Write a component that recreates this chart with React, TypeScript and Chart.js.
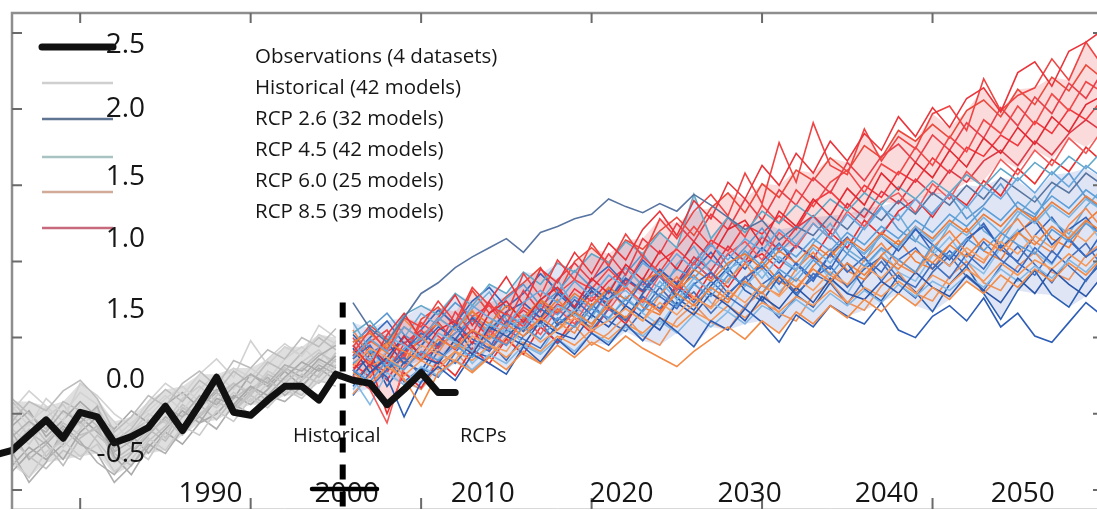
import React, { useEffect, useRef } from 'react';
import { Chart, registerables } from 'chart.js';

Chart.register(...registerables);

// ---------------- DATA ----------------
const obsYears = [1985, 1986, 1987, 1988, 1989, 1990, 1991, 1992, 1993, 1994, 1995, 1996, 1997, 1998, 1999, 2000, 2001, 2002, 2003, 2004, 2005, 2006, 2007, 2008, 2009, 2010, 2011, 2012];
const obsAnomaly = [-0.27, -0.24, -0.14, -0.04, -0.16, 0.01, -0.02, -0.19, -0.15, -0.09, 0.05, -0.11, 0.06, 0.24, 0.01, -0.01, 0.09, 0.18, 0.18, 0.09, 0.26, 0.22, 0.20, 0.06, 0.16, 0.27, 0.14, 0.14];

const histYears = [1986, 1987, 1988, 1989, 1990, 1991, 1992, 1993, 1994, 1995, 1996, 1997, 1998, 1999, 2000, 2001, 2002, 2003, 2004, 2005];
const historicalRuns = [
  [-0.05, 0.08, 0.02, 0.15, 0.22, 0.10, -0.12, -0.02, 0.12, 0.05, 0.20, 0.28, 0.18, 0.35, 0.30, 0.42, 0.36, 0.50, 0.44, 0.56],
  [-0.30, -0.42, -0.25, -0.18, -0.28, -0.20, -0.38, -0.30, -0.16, -0.24, -0.08, -0.14, 0.02, -0.05, 0.10, 0.04, 0.16, 0.10, 0.22, 0.18],
  [-0.15, -0.05, -0.12, 0.02, -0.06, 0.05, -0.25, -0.18, -0.08, 0.04, -0.02, 0.12, 0.06, 0.18, 0.26, 0.20, 0.32, 0.28, 0.38, 0.45],
  [0.05, -0.08, 0.10, 0.00, 0.14, 0.06, -0.05, -0.20, -0.02, 0.10, 0.18, 0.08, 0.22, 0.30, 0.24, 0.36, 0.46, 0.38, 0.52, 0.46],
  [-0.22, -0.10, -0.28, -0.15, -0.05, -0.18, -0.32, -0.25, -0.12, -0.04, -0.14, 0.00, 0.08, 0.02, 0.14, 0.22, 0.14, 0.26, 0.20, 0.32],
  [-0.38, -0.26, -0.18, -0.30, -0.12, -0.02, -0.28, -0.40, -0.22, -0.10, 0.02, -0.06, 0.10, 0.06, 0.18, 0.12, 0.24, 0.34, 0.28, 0.38],
  [0.10, 0.00, -0.10, 0.08, 0.02, -0.08, -0.18, -0.10, 0.05, 0.16, 0.08, 0.22, 0.14, 0.28, 0.20, 0.34, 0.28, 0.40, 0.50, 0.42],
  [-0.10, -0.20, -0.05, -0.22, -0.10, 0.04, -0.14, -0.22, -0.30, -0.12, 0.00, 0.10, 0.04, 0.14, 0.08, 0.20, 0.30, 0.22, 0.34, 0.28],
  [-0.25, -0.45, -0.32, -0.10, -0.20, -0.26, -0.45, -0.34, -0.20, -0.26, -0.10, -0.02, -0.10, 0.06, 0.00, 0.12, 0.08, 0.18, 0.12, 0.24],
  [0.02, 0.15, 0.05, -0.05, 0.20, 0.12, 0.00, -0.08, 0.08, 0.20, 0.12, 0.26, 0.36, 0.24, 0.48, 0.32, 0.44, 0.38, 0.58, 0.50],
  [-0.18, -0.28, -0.36, -0.24, -0.30, -0.14, -0.24, -0.12, -0.04, -0.16, 0.04, -0.02, 0.12, 0.20, 0.12, 0.26, 0.20, 0.30, 0.40, 0.34],
  [-0.08, 0.02, -0.15, -0.04, 0.08, -0.02, -0.10, 0.02, -0.06, 0.06, 0.14, 0.04, 0.16, 0.10, 0.26, 0.18, 0.30, 0.24, 0.36, 0.30],
  [-0.28, -0.12, -0.20, -0.34, -0.16, -0.08, -0.30, -0.22, -0.10, -0.18, -0.02, 0.06, -0.04, 0.10, 0.18, 0.08, 0.20, 0.30, 0.24, 0.36],
  [0.00, -0.15, -0.02, 0.06, -0.08, 0.02, -0.20, -0.12, 0.00, -0.06, 0.10, 0.18, 0.08, 0.20, 0.14, 0.28, 0.22, 0.34, 0.42, 0.30],
  [-0.12, -0.30, -0.20, -0.08, -0.18, -0.32, -0.40, -0.26, -0.14, -0.02, -0.10, 0.04, 0.14, 0.04, 0.16, 0.24, 0.12, 0.22, 0.32, 0.26],
  [-0.20, -0.06, 0.04, -0.12, 0.06, -0.04, -0.16, -0.06, 0.02, 0.12, 0.02, 0.16, 0.26, 0.16, 0.30, 0.22, 0.36, 0.44, 0.34, 0.48],
  [0.08, -0.04, -0.18, -0.06, -0.14, -0.10, -0.26, -0.34, -0.18, -0.08, 0.06, -0.02, 0.08, 0.02, 0.12, 0.06, 0.18, 0.12, 0.26, 0.40],
  [-0.34, -0.22, -0.30, -0.20, -0.02, -0.12, -0.22, -0.14, -0.26, -0.12, -0.20, -0.06, 0.00, 0.12, 0.06, 0.16, 0.28, 0.18, 0.30, 0.22],
];

const rcpYears = [2006, 2007, 2008, 2009, 2010, 2011, 2012, 2013, 2014, 2015, 2016, 2017, 2018, 2019, 2020, 2021, 2022, 2023, 2024, 2025, 2026, 2027, 2028, 2029, 2030, 2031, 2032, 2033, 2034, 2035, 2036, 2037, 2038, 2039, 2040, 2041, 2042, 2043, 2044, 2045, 2046, 2047, 2048, 2049, 2050];

const rcp26Runs = [
  [0.73, 0.56, 0.47, 0.63, 0.79, 0.86, 0.96, 1.03, 1.09, 1.15, 1.06, 1.19, 1.23, 1.28, 1.31, 1.41, 1.36, 1.32, 1.38, 1.33, 1.44, 1.37, 1.29, 1.21, 1.27, 1.14, 1.23, 1.17, 1.30, 1.21, 1.35, 1.27, 1.40, 1.31, 1.45, 1.37, 1.50, 1.41, 1.55, 1.47, 1.39, 1.52, 1.45, 1.58, 1.50],
  [0.18, 0.33, 0.24, -0.02, 0.21, 0.31, 0.22, 0.39, 0.33, 0.26, 0.44, 0.34, 0.49, 0.39, 0.53, 0.45, 0.59, 0.48, 0.63, 0.54, 0.44, 0.61, 0.55, 0.69, 0.60, 0.47, 0.65, 0.57, 0.71, 0.64, 0.59, 0.73, 0.55, 0.50, 0.64, 0.71, 0.61, 0.76, 0.57, 0.66, 0.51, 0.47, 0.60, 0.73, 0.64],
  [0.36, 0.45, 0.29, 0.41, 0.53, 0.45, 0.59, 0.49, 0.43, 0.61, 0.54, 0.69, 0.61, 0.75, 0.65, 0.81, 0.71, 0.87, 0.77, 0.69, 0.85, 0.93, 0.79, 0.89, 0.97, 0.85, 0.99, 0.89, 1.05, 0.93, 1.03, 0.87, 1.01, 1.09, 0.95, 1.07, 0.97, 1.13, 1.01, 0.93, 1.09, 0.99, 1.15, 1.03, 1.11],
  [0.43, 0.27, 0.37, 0.51, 0.37, 0.33, 0.49, 0.39, 0.57, 0.51, 0.45, 0.61, 0.53, 0.49, 0.65, 0.57, 0.71, 0.63, 0.55, 0.73, 0.65, 0.79, 0.71, 0.61, 0.77, 0.69, 0.83, 0.73, 0.89, 0.79, 0.75, 0.87, 0.79, 0.93, 0.83, 0.77, 0.91, 0.81, 0.73, 0.89, 0.79, 0.95, 0.85, 0.77, 0.91],
  [0.29, 0.17, 0.29, 0.37, 0.25, 0.41, 0.33, 0.47, 0.41, 0.55, 0.49, 0.43, 0.59, 0.67, 0.55, 0.69, 0.61, 0.77, 0.69, 0.83, 0.73, 0.87, 0.77, 0.69, 0.85, 0.93, 0.79, 0.89, 0.97, 0.83, 0.95, 1.03, 0.89, 0.83, 0.99, 0.89, 1.05, 0.95, 1.11, 0.99, 0.91, 1.07, 0.97, 0.87, 1.03],
  [0.25, 0.39, 0.47, 0.33, 0.45, 0.57, 0.49, 0.63, 0.54, 0.67, 0.73, 0.63, 0.79, 0.69, 0.83, 0.75, 0.89, 0.81, 0.95, 0.85, 0.99, 0.89, 1.05, 0.95, 1.09, 0.99, 1.11, 1.03, 0.95, 1.13, 1.05, 1.17, 1.07, 1.21, 1.11, 1.01, 1.15, 1.23, 1.09, 1.19, 1.27, 1.11, 1.21, 1.29, 1.15],
  [0.52, 0.40, 0.18, 0.34, 0.28, 0.46, 0.58, 0.41, 0.37, 0.50, 0.62, 0.75, 0.58, 0.66, 0.81, 0.70, 0.62, 0.79, 0.92, 0.76, 0.68, 0.84, 0.96, 0.81, 0.74, 0.90, 0.78, 0.70, 0.86, 0.99, 0.82, 0.74, 0.91, 0.80, 0.67, 0.85, 0.97, 0.79, 0.62, 0.81, 0.94, 0.78, 0.70, 0.88, 1.00],
  [0.12, 0.27, 0.36, 0.21, 0.30, 0.24, 0.40, 0.55, 0.47, 0.35, 0.51, 0.60, 0.46, 0.58, 0.72, 0.61, 0.54, 0.68, 0.83, 0.71, 0.80, 0.66, 0.78, 0.90, 0.75, 0.63, 0.77, 0.92, 0.86, 0.72, 0.88, 1.00, 0.85, 0.76, 0.93, 1.04, 0.90, 0.81, 0.97, 1.10, 0.98, 0.86, 1.02, 1.12, 0.96],
  [0.38, 0.50, 0.61, 0.46, 0.55, 0.68, 0.59, 0.74, 0.83, 0.70, 0.79, 0.92, 0.81, 0.70, 0.88, 0.97, 0.85, 1.01, 0.90, 0.78, 0.94, 1.06, 0.92, 0.84, 1.00, 1.12, 0.98, 0.87, 1.05, 1.16, 1.02, 0.93, 1.10, 1.22, 1.06, 0.97, 1.13, 1.25, 1.08, 1.00, 1.17, 1.29, 1.14, 1.03, 1.20],
];

const rcp45Runs = [
  [0.37, 0.49, 0.41, 0.57, 0.49, 0.63, 0.55, 0.71, 0.63, 0.57, 0.73, 0.81, 0.73, 0.87, 0.77, 0.91, 0.83, 0.99, 0.91, 1.05, 0.95, 1.11, 1.01, 1.15, 1.07, 1.21, 1.11, 1.25, 1.15, 1.31, 1.21, 1.35, 1.27, 1.41, 1.31, 1.45, 1.35, 1.49, 1.41, 1.55, 1.45, 1.59, 1.49, 1.63, 1.55],
  [0.29, 0.21, 0.35, 0.29, 0.41, 0.35, 0.45, 0.37, 0.51, 0.45, 0.57, 0.49, 0.63, 0.57, 0.69, 0.63, 0.75, 0.67, 0.79, 0.71, 0.85, 0.77, 0.91, 0.85, 0.79, 0.95, 0.87, 1.01, 0.91, 1.05, 0.97, 1.09, 1.01, 0.93, 1.11, 1.03, 1.15, 1.07, 1.19, 1.11, 1.05, 1.21, 1.13, 1.25, 1.17],
  [0.45, 0.35, 0.51, 0.45, 0.37, 0.53, 0.47, 0.41, 0.59, 0.53, 0.65, 0.57, 0.71, 0.65, 0.59, 0.75, 0.81, 0.71, 0.87, 0.75, 0.89, 0.81, 0.95, 1.01, 0.89, 1.03, 0.95, 1.09, 0.99, 1.13, 1.05, 1.17, 1.09, 1.23, 1.13, 1.25, 1.17, 1.29, 1.19, 1.33, 1.25, 1.37, 1.29, 1.41, 1.33],
  [0.53, 0.61, 0.47, 0.65, 0.71, 0.65, 0.79, 0.71, 0.85, 0.79, 0.93, 0.85, 0.99, 0.93, 1.05, 0.99, 1.13, 1.05, 1.19, 1.09, 1.44, 1.15, 1.29, 1.19, 1.33, 1.25, 1.37, 1.29, 1.41, 1.33, 1.45, 1.37, 1.49, 1.41, 1.53, 1.45, 1.57, 1.49, 1.61, 1.53, 1.65, 1.57, 1.69, 1.61, 1.73],
  [0.23, 0.06, 0.27, 0.19, 0.31, 0.25, 0.35, 0.29, 0.39, 0.33, 0.45, 0.39, 0.49, 0.41, 0.53, 0.47, 0.57, 0.51, 0.61, 0.53, 0.65, 0.57, 0.67, 0.59, 0.71, 0.65, 0.75, 0.67, 0.79, 0.71, 0.81, 0.73, 0.85, 0.77, 0.87, 0.81, 0.91, 0.83, 0.95, 0.87, 0.97, 0.89, 1.01, 0.93, 1.05],
  [0.33, 0.41, 0.31, 0.43, 0.49, 0.43, 0.53, 0.61, 0.53, 0.65, 0.59, 0.71, 0.65, 0.77, 0.69, 0.83, 0.75, 0.89, 0.83, 0.95, 0.89, 1.01, 0.93, 1.07, 0.97, 1.11, 1.03, 1.15, 1.07, 1.19, 1.11, 1.23, 1.15, 1.27, 1.19, 1.31, 1.23, 1.35, 1.27, 1.39, 1.31, 1.43, 1.35, 1.47, 1.39],
  [0.60, 0.42, 0.35, 0.50, 0.66, 0.58, 0.47, 0.69, 0.80, 0.62, 0.55, 0.74, 0.88, 0.70, 0.63, 0.81, 0.96, 0.84, 0.77, 0.98, 1.10, 0.92, 0.86, 1.03, 1.17, 1.01, 0.94, 1.12, 1.25, 1.08, 1.00, 1.19, 1.31, 1.14, 1.06, 1.24, 1.37, 1.20, 1.12, 1.30, 1.43, 1.27, 1.18, 1.36, 1.48],
  [0.16, 0.30, 0.41, 0.27, 0.20, 0.36, 0.48, 0.33, 0.44, 0.57, 0.46, 0.40, 0.58, 0.69, 0.54, 0.62, 0.77, 0.66, 0.58, 0.74, 0.86, 0.73, 0.67, 0.84, 0.95, 0.80, 0.91, 1.03, 0.88, 0.79, 0.96, 1.08, 0.93, 0.87, 1.04, 1.16, 1.00, 0.92, 1.09, 1.21, 1.06, 0.98, 1.16, 1.27, 1.12],
  [0.47, 0.56, 0.66, 0.52, 0.44, 0.61, 0.73, 0.64, 0.57, 0.76, 0.85, 0.71, 0.80, 0.94, 0.83, 0.74, 0.92, 1.05, 0.90, 0.82, 1.00, 1.12, 0.97, 1.09, 1.22, 1.06, 1.17, 1.30, 1.16, 1.05, 1.23, 1.36, 1.21, 1.13, 1.32, 1.44, 1.28, 1.37, 1.51, 1.35, 1.29, 1.47, 1.58, 1.42, 1.34],
];

const rcp60Runs = [
  [0.27, 0.19, 0.31, 0.23, 0.05, 0.27, 0.35, 0.27, 0.37, 0.29, 0.41, 0.33, 0.45, 0.37, 0.47, 0.41, 0.51, 0.43, 0.37, 0.31, 0.41, 0.49, 0.57, 0.49, 0.61, 0.53, 0.67, 0.59, 0.71, 0.63, 0.75, 0.67, 0.79, 0.71, 0.83, 0.75, 0.87, 0.79, 0.91, 0.83, 0.95, 0.87, 0.99, 0.91, 1.03],
  [0.41, 0.33, 0.47, 0.41, 0.35, 0.49, 0.43, 0.55, 0.49, 0.59, 0.51, 0.63, 0.55, 0.67, 0.59, 0.71, 0.63, 0.75, 0.67, 0.79, 0.71, 0.83, 0.75, 0.87, 0.79, 0.91, 0.83, 0.95, 0.87, 0.99, 0.91, 1.03, 0.95, 1.07, 0.99, 1.11, 1.03, 1.15, 1.07, 1.19, 1.11, 1.23, 1.15, 1.27, 1.19],
  [0.31, 0.43, 0.37, 0.29, 0.45, 0.39, 0.35, 0.51, 0.45, 0.41, 0.57, 0.47, 0.55, 0.63, 0.55, 0.61, 0.69, 0.61, 0.73, 0.65, 0.77, 0.69, 0.81, 0.73, 0.85, 0.77, 0.89, 0.81, 0.93, 0.85, 0.97, 0.89, 1.01, 0.93, 1.05, 0.97, 1.09, 1.01, 1.13, 1.05, 1.17, 1.09, 1.21, 1.13, 1.25],
  [0.47, 0.53, 0.43, 0.57, 0.49, 0.63, 0.55, 0.67, 0.59, 0.71, 0.63, 0.75, 0.67, 0.79, 0.71, 0.83, 0.75, 0.87, 0.93, 0.83, 0.95, 0.87, 0.99, 1.05, 0.95, 1.07, 0.99, 1.11, 1.03, 1.15, 1.07, 1.19, 1.11, 1.23, 1.15, 1.27, 1.19, 1.31, 1.23, 1.35, 1.27, 1.39, 1.31, 1.43, 1.35],
  [0.21, 0.31, 0.37, 0.25, 0.35, 0.29, 0.41, 0.35, 0.45, 0.37, 0.47, 0.41, 0.51, 0.45, 0.55, 0.49, 0.59, 0.53, 0.63, 0.57, 0.67, 0.61, 0.71, 0.63, 0.73, 0.67, 0.77, 0.71, 0.81, 0.73, 0.83, 0.77, 0.87, 0.79, 0.91, 0.85, 0.95, 0.87, 0.99, 0.91, 1.01, 0.95, 1.05, 0.97, 1.09],
  [0.55, 0.38, 0.45, 0.62, 0.51, 0.40, 0.57, 0.68, 0.52, 0.46, 0.63, 0.74, 0.60, 0.53, 0.71, 0.82, 0.69, 0.61, 0.78, 0.90, 0.76, 0.70, 0.88, 0.99, 0.84, 0.78, 0.95, 1.06, 0.91, 0.84, 1.01, 1.12, 0.98, 0.92, 1.09, 1.20, 1.06, 0.99, 1.17, 1.28, 1.13, 1.06, 1.24, 1.35, 1.21],
  [0.13, 0.25, 0.34, 0.22, 0.16, 0.32, 0.41, 0.28, 0.38, 0.50, 0.39, 0.33, 0.49, 0.58, 0.45, 0.53, 0.64, 0.51, 0.45, 0.62, 0.72, 0.60, 0.55, 0.71, 0.80, 0.66, 0.61, 0.78, 0.87, 0.73, 0.68, 0.84, 0.93, 0.79, 0.74, 0.90, 1.00, 0.86, 0.81, 0.97, 1.06, 0.93, 0.88, 1.04, 1.13],
  [0.36, 0.48, 0.40, 0.33, 0.52, 0.59, 0.46, 0.40, 0.56, 0.65, 0.54, 0.62, 0.75, 0.63, 0.57, 0.74, 0.84, 0.70, 0.65, 0.81, 0.91, 0.79, 0.73, 0.89, 1.00, 0.87, 0.81, 0.97, 1.08, 0.94, 0.88, 1.04, 1.14, 1.00, 0.95, 1.11, 1.22, 1.07, 1.01, 1.18, 1.29, 1.15, 1.09, 1.26, 1.36],
];

const rcp85Runs = [
  [0.45, 0.31, 0.52, 0.66, 0.49, 0.63, 0.78, 0.58, 0.74, 0.90, 0.71, 0.95, 0.86, 1.06, 0.92, 1.12, 1.01, 1.21, 1.33, 1.17, 1.40, 1.28, 1.52, 1.41, 1.63, 1.50, 1.71, 1.58, 1.79, 1.66, 1.84, 1.73, 1.95, 1.82, 2.01, 1.88, 2.07, 2.14, 1.98, 2.24, 2.31, 2.15, 2.38, 2.44, 2.52],
  [0.40, 0.55, 0.41, 0.63, 0.57, 0.74, 0.60, 0.83, 0.71, 0.65, 0.92, 0.77, 1.01, 0.88, 1.12, 0.97, 1.18, 1.03, 1.28, 1.15, 1.33, 1.44, 1.30, 1.58, 1.38, 1.78, 1.52, 1.91, 1.63, 1.57, 1.87, 1.66, 1.82, 1.74, 1.97, 2.02, 1.86, 2.20, 1.99, 2.09, 2.14, 2.33, 2.19, 2.44, 2.28],
  [0.28, 0.44, 0.33, 0.51, 0.38, 0.55, 0.61, 0.46, 0.66, 0.74, 0.60, 0.75, 0.83, 0.70, 0.89, 0.79, 0.98, 0.88, 1.07, 0.95, 1.13, 1.02, 1.21, 1.27, 1.11, 1.33, 1.23, 1.41, 1.30, 1.48, 1.37, 1.58, 1.47, 1.65, 1.55, 1.73, 1.62, 1.81, 1.71, 1.88, 1.77, 1.95, 1.85, 2.03, 2.09],
  [0.25, 0.16, -0.06, 0.31, 0.40, 0.33, 0.49, 0.40, 0.55, 0.45, 0.63, 0.52, 0.69, 0.59, 0.77, 0.68, 0.83, 0.73, 0.91, 0.81, 0.99, 0.89, 1.05, 1.13, 1.01, 1.19, 1.09, 1.25, 1.15, 1.33, 1.23, 1.39, 1.45, 1.32, 1.51, 1.41, 1.59, 1.49, 1.67, 1.57, 1.73, 1.63, 1.81, 1.71, 1.87],
  [0.50, 0.34, 0.27, 0.46, 0.55, 0.43, 0.67, 0.53, 0.73, 0.59, 0.81, 0.67, 0.88, 0.99, 0.87, 1.05, 0.91, 1.15, 1.05, 1.25, 1.13, 1.31, 1.21, 1.41, 1.27, 1.47, 1.37, 1.55, 1.45, 1.65, 1.53, 1.69, 1.77, 1.65, 1.83, 1.73, 1.91, 1.81, 2.01, 1.89, 2.08, 1.97, 2.17, 2.07, 2.25],
  [0.20, 0.33, 0.00, 0.27, 0.17, 0.35, 0.25, 0.43, 0.33, 0.49, 0.39, 0.57, 0.47, 0.63, 0.53, 0.69, 0.59, 0.77, 0.67, 0.85, 0.75, 0.93, 0.83, 0.99, 1.05, 0.95, 1.11, 1.02, 1.19, 1.09, 1.27, 1.17, 1.33, 1.41, 1.29, 1.45, 1.37, 1.53, 1.43, 1.61, 1.51, 1.67, 1.59, 1.75, 1.65],
  [0.38, 0.47, 0.55, 0.36, 0.60, 0.51, 0.42, 0.64, 0.71, 0.56, 0.70, 0.63, 0.79, 0.88, 0.82, 0.95, 0.84, 1.03, 0.93, 1.09, 1.23, 1.10, 1.29, 1.16, 1.37, 1.25, 1.47, 1.36, 1.52, 1.60, 1.45, 1.64, 1.57, 1.75, 1.63, 1.82, 1.72, 1.93, 1.84, 2.02, 1.90, 2.10, 1.99, 2.18, 2.11],
  [0.30, 0.36, 0.22, 0.40, 0.48, 0.60, 0.47, 0.55, 0.41, 0.58, 0.68, 0.60, 0.72, 0.66, 0.80, 0.72, 0.88, 0.80, 0.94, 0.86, 1.03, 0.94, 1.10, 1.00, 1.16, 1.08, 1.22, 1.30, 1.19, 1.38, 1.29, 1.46, 1.38, 1.54, 1.44, 1.60, 1.52, 1.66, 1.73, 1.63, 1.79, 1.70, 1.84, 1.93, 1.85],
  [0.44, 0.58, 0.49, 0.38, 0.62, 0.70, 0.57, 0.81, 0.66, 0.77, 0.86, 0.96, 0.78, 1.00, 1.09, 0.99, 1.14, 1.08, 1.20, 1.29, 1.17, 1.35, 1.45, 1.32, 1.51, 1.42, 1.60, 1.53, 1.68, 1.59, 1.76, 1.68, 1.86, 1.79, 1.90, 1.81, 1.99, 2.06, 1.95, 2.13, 2.03, 2.21, 2.12, 2.29, 2.20],
  [0.33, 0.24, 0.41, 0.47, 0.35, 0.44, 0.53, 0.62, 0.50, 0.66, 0.57, 0.73, 0.66, 0.82, 0.74, 0.87, 0.96, 0.84, 1.00, 1.08, 0.98, 1.14, 1.07, 1.24, 1.18, 1.30, 1.21, 1.39, 1.46, 1.35, 1.50, 1.42, 1.59, 1.52, 1.68, 1.58, 1.75, 1.69, 1.83, 1.76, 1.92, 1.84, 2.00, 1.93, 2.07],
];

const splitYear = 2005.4;
const splitTop = 0.73;

const xTickYears = [1990, 2000, 2010, 2020, 2030, 2040];
const yTickValues = [-0.5, 0, 0.5, 1, 1.5, 2, 2.5];
const xLabelTexts = ['1990', '2000', '2010', '2020', '2030', '2040', '2050'];
const yLabelTexts = ['2.5', '2.0', '1.5', '1.0', '1.5', '0.0', '-0.5'];
const legendLabels = ['Observations (4 datasets)', 'Historical (42 models)', 'RCP 2.6 (32 models)', 'RCP 4.5 (42 models)', 'RCP 6.0 (25 models)', 'RCP 8.5 (39 models)'];

// ---------------- LAYOUT / STYLE ----------------
const FONT = '"Open Sans", "Noto Sans", sans-serif';
const xLabelAnchors = [1997.65, 2005.63, 2013.61, 2021.76, 2029.27, 2037.31, 2045.29];
const yLabelAnchors = [2.434, 2.011, 1.568, 1.161, 0.694, 0.235, -0.254];
const legendSwatchColors = ['#111111', '#cfcfcf', '#5f7592', '#a9c3c3', '#d2ab98', '#c76a7e'];
const legendSwatchY = [47, 83, 119, 157, 192, 228];

const histColors = ['#bdbdbd', '#cbcbcb', '#b0b0b0', '#d2d2d2', '#c2c2c2', '#a9a9a9'];
const rcp26Colors = ['#5874a0', '#2d5db5', '#3a6cc4', '#2a55a8', '#4070c0', '#3262b8', '#2b5fb0', '#466fb8', '#3768bd'];
const rcp45Colors = ['#6aa6dd', '#5a9ad6', '#7ab3e0', '#62a8c8', '#84b8e4', '#5c9ed8', '#70acd6', '#8bbde6', '#5d97cf'];
const rcp60Colors = ['#f28c48', '#ee8440', '#f5a066', '#e97c3a', '#f39656', '#f08a50', '#eb9462', '#f07e36'];
const rcp85Colors = ['#e8353b', '#ee4444', '#e02a34', '#f05a5a', '#e6404c', '#ea3030', '#f04848', '#dc3a48', '#e94a3c', '#f2383e'];

const toPoints = (years: number[], vals: number[]) => vals.map((v, i) => ({ x: years[i], y: v }));

// envelope of a set of runs (k-th lowest / k-th highest per year)
function envelope(runs: number[][], k: number) {
  const lo: number[] = [];
  const hi: number[] = [];
  runs[0].forEach((_, j) => {
    const col = runs.map((r) => r[j]).sort((p, q) => p - q);
    lo.push(col[Math.min(k, col.length - 1)]);
    hi.push(col[Math.max(col.length - 1 - k, 0)]);
  });
  return { lo, hi };
}

function bandPair(years: number[], env: { lo: number[]; hi: number[] }, color: string, order: number) {
  return [
    { data: toPoints(years, env.lo), borderWidth: 0, borderColor: 'rgba(0,0,0,0)', fill: false, order },
    { data: toPoints(years, env.hi), borderWidth: 0, borderColor: 'rgba(0,0,0,0)', backgroundColor: color, fill: '-1', order },
  ];
}

function buildDatasets() {
  const ds: any[] = [];
  // shaded spreads (drawn first, underneath)
  ds.push(...bandPair(histYears, envelope(historicalRuns, 1), 'rgba(170,170,170,0.38)', 9));
  ds.push(...bandPair(rcpYears, envelope([...rcp26Runs, ...rcp45Runs, ...rcp60Runs], 1), 'rgba(110,135,205,0.22)', 8));
  ds.push(...bandPair(rcpYears, envelope(rcp85Runs, 1), 'rgba(232,70,70,0.2)', 7));

  historicalRuns.forEach((vals, i) => {
    ds.push({ data: toPoints(histYears, vals), borderColor: histColors[i % histColors.length], borderWidth: 1.6, fill: false, order: 3 });
  });
  const groups = [
    { runs: rcp60Runs, colors: rcp60Colors },
    { runs: rcp45Runs, colors: rcp45Colors },
    { runs: rcp26Runs, colors: rcp26Colors },
    { runs: rcp85Runs, colors: rcp85Colors },
  ];
  for (let i = 0; i < 10; i++) {
    groups.forEach((g) => {
      if (g.runs[i]) ds.push({ data: toPoints(rcpYears, g.runs[i]), borderColor: g.colors[i], borderWidth: 1.6, fill: false, order: 2 });
    });
  }
  ds.push({
    data: toPoints(obsYears, obsAnomaly),
    borderColor: '#111111',
    borderWidth: 7,
    borderJoinStyle: 'round',
    borderCapStyle: 'round',
    fill: false,
    clip: false,
    order: 0,
  });
  return ds;
}

const overlayPlugin = {
  id: 'ipccOverlay',
  afterDatasetsDraw(chart: any) {
    const { ctx, chartArea: a } = chart;
    const xs = chart.scales.x;
    const ys = chart.scales.y;
    ctx.save();

    // frame
    ctx.strokeStyle = '#d9d9d9';
    ctx.lineWidth = 1;
    ctx.beginPath();
    ctx.moveTo(a.left, a.bottom - 0.5);
    ctx.lineTo(a.right, a.bottom - 0.5);
    ctx.stroke();
    ctx.strokeStyle = '#8e8e8e';
    ctx.lineWidth = 2.5;
    ctx.beginPath();
    ctx.moveTo(a.left, a.bottom);
    ctx.lineTo(a.left, a.top);
    ctx.lineTo(a.right, a.top);
    ctx.lineTo(a.right, a.bottom);
    ctx.stroke();

    // inward ticks
    ctx.strokeStyle = '#6a6a6a';
    ctx.lineWidth = 2;
    ctx.beginPath();
    xTickYears.forEach((t) => {
      const px = xs.getPixelForValue(t);
      ctx.moveTo(px, a.top);
      ctx.lineTo(px, a.top + 10);
      ctx.moveTo(px, a.bottom);
      ctx.lineTo(px, a.bottom - 11);
    });
    yTickValues.forEach((v) => {
      const py = ys.getPixelForValue(v);
      ctx.moveTo(a.left, py);
      ctx.lineTo(a.left + 10, py);
      ctx.moveTo(a.right, py);
      ctx.lineTo(a.right - 10, py);
    });
    ctx.stroke();

    // legend swatches
    legendSwatchColors.forEach((c, i) => {
      ctx.strokeStyle = c;
      ctx.lineWidth = i === 0 ? 7 : 2.5;
      ctx.lineCap = i === 0 ? 'round' : 'butt';
      ctx.beginPath();
      ctx.moveTo(42, legendSwatchY[i]);
      ctx.lineTo(113, legendSwatchY[i]);
      ctx.stroke();
    });
    ctx.lineCap = 'butt';

    // legend labels
    ctx.fillStyle = '#161616';
    ctx.font = `20.5px ${FONT}`;
    ctx.textAlign = 'left';
    ctx.textBaseline = 'alphabetic';
    legendLabels.forEach((t, i) => ctx.fillText(t, 255, 63 + 31 * i));

    // y labels (as printed)
    ctx.font = `28px ${FONT}`;
    ctx.textAlign = 'right';
    yLabelTexts.forEach((t, i) => ctx.fillText(t, 145, ys.getPixelForValue(yLabelAnchors[i]) + 10));

    // x labels (as printed)
    ctx.textAlign = 'center';
    xLabelTexts.forEach((t, i) => ctx.fillText(t, xs.getPixelForValue(xLabelAnchors[i]), 502));

    // period labels
    ctx.font = `20px ${FONT}`;
    ctx.textAlign = 'left';
    ctx.fillText('Historical', 293, 442);
    ctx.fillText('RCPs', 460, 442);

    // dashed split line
    const sx = xs.getPixelForValue(splitYear);
    ctx.strokeStyle = '#000000';
    ctx.lineWidth = 6;
    ctx.setLineDash([15, 12]);
    ctx.beginPath();
    ctx.moveTo(sx, ys.getPixelForValue(splitTop));
    ctx.lineTo(sx, a.bottom);
    ctx.stroke();
    ctx.setLineDash([]);

    // stroke through the "2000" label
    ctx.lineWidth = 4.5;
    ctx.lineCap = 'round';
    ctx.beginPath();
    ctx.moveTo(312, 489);
    ctx.lineTo(377, 489);
    ctx.stroke();

    ctx.restore();
  },
};

export default function App() {
  const canvasRef = useRef<HTMLCanvasElement | null>(null);

  useEffect(() => {
    if (!canvasRef.current) return;
    const chart = new Chart(canvasRef.current, {
      type: 'line',
      data: { datasets: buildDatasets() },
      options: {
        animation: false,
        responsive: true,
        maintainAspectRatio: false,
        events: [],
        layout: { padding: { left: 12, top: 13, right: 7, bottom: 1 } },
        elements: { point: { radius: 0 }, line: { tension: 0 } },
        plugins: { legend: { display: false }, tooltip: { enabled: false } },
        scales: {
          x: { type: 'linear', min: 1986, max: 2050, display: false },
          y: { type: 'linear', min: -0.625, max: 2.631, display: false },
        },
      },
      plugins: [overlayPlugin],
    } as any);
    return () => chart.destroy();
  }, []);

  return (
    <div style={{ position: 'fixed', left: 0, top: 0, width: 1097, height: 510, overflow: 'hidden', background: '#ffffff' }}>
      <div style={{ position: 'relative', width: 1110, height: 510 }}>
        <canvas ref={canvasRef} />
      </div>
    </div>
  );
}
